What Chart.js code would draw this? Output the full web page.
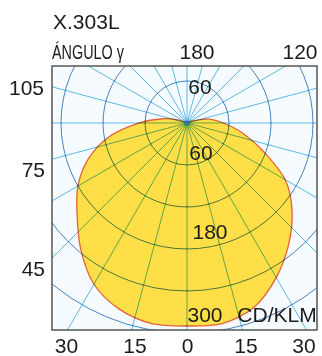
<!DOCTYPE html>
<html><head><meta charset="utf-8">
<script src="https://cdn.jsdelivr.net/npm/chart.js@4.4.1/dist/chart.umd.min.js"></script>
<style>html,body{margin:0;padding:0;background:#fff;overflow:hidden}canvas{display:block}</style>
</head><body>
<canvas id="c" width="322" height="356"></canvas>
<script>
// ---- data ----
const gammaAngles    = [0, 10, 20, 30, 40, 50, 60, 70, 80, 90, 100, 110, 120];
const intensityLeft  = [290, 291, 283, 266, 236, 205, 180, 150, 113, 68, 35, 12, 0];
const intensityRight = [290, 291, 280, 255, 226, 196, 162, 115, 80, 52, 32, 10, 0];
const ringValues     = [60, 120, 180, 240, 300, 360, 420];
const spokeAngles    = [0,15,30,45,60,75,90,105,120,135,150,165,180,195,210,225,240,255,270,285,300,315,330,345];
const bottomTickLabels = ['30', '15', '0', '15', '30'];
const leftTickLabels   = ['105', '75', '45'];
const topTickLabels    = ['180', '120'];
const ringLabels       = ['60', '60', '180', '300'];
const unitLabel  = 'CD/KLM';
const titleText  = 'X.303L';
const axisTitle  = 'ÁNGULO γ';

const rad = d => d * Math.PI / 180;
const curve = [];
for (let i = gammaAngles.length - 1; i >= 0; i--) {
  const g = rad(gammaAngles[i]), I = intensityLeft[i];
  curve.push({x: -I * Math.sin(g), y: -I * Math.cos(g)});
}
for (let i = 1; i < gammaAngles.length; i++) {
  const g = rad(gammaAngles[i]), I = intensityRight[i];
  curve.push({x: I * Math.sin(g), y: -I * Math.cos(g)});
}

// ---- text layout (pixels) ----
const FONT = '21px "Liberation Sans", Arial, sans-serif';
const textLayout = [
  {t: titleText, left: 53, yc: 21},
  {t: axisTitle, left: 52, yc: 51, w: 72},
  {t: topTickLabels[0], cx: 197, yc: 51},
  {t: topTickLabels[1], cx: 300, yc: 51},
  {t: leftTickLabels[0], right: 44, yc: 87},
  {t: leftTickLabels[1], right: 45, yc: 169},
  {t: leftTickLabels[2], right: 45, yc: 268},
  {t: ringLabels[0], cx: 200, yc: 86},
  {t: ringLabels[1], cx: 201, yc: 152},
  {t: ringLabels[2], cx: 210, yc: 231},
  {t: ringLabels[3], cx: 205, yc: 314},
  {t: unitLabel, cx: 277, yc: 314},
  {t: bottomTickLabels[0], cx: 66.5, yc: 345},
  {t: bottomTickLabels[1], cx: 135, yc: 345},
  {t: bottomTickLabels[2], cx: 187.5, yc: 345},
  {t: bottomTickLabels[3], cx: 246, yc: 345},
  {t: bottomTickLabels[4], cx: 304, yc: 345}
];

const polarPlugin = {
  id: 'polarGrid',
  beforeDatasetsDraw(chart) {
    const {ctx, chartArea: a} = chart;
    ctx.save();
    ctx.fillStyle = '#f5fbfe';
    ctx.fillRect(a.left, a.top, a.right - a.left, a.bottom - a.top);
    ctx.restore();
  },
  afterDatasetsDraw(chart) {
    const {ctx, chartArea: a, scales: {x, y}} = chart;
    const cx = x.getPixelForValue(0), cy = y.getPixelForValue(0);
    ctx.save();
    ctx.beginPath();
    ctx.rect(a.left, a.top, a.right - a.left, a.bottom - a.top);
    ctx.clip();
    ctx.globalCompositeOperation = 'multiply';
    ctx.lineWidth = 1;
    ctx.strokeStyle = '#62bce8';
    spokeAngles.forEach(g => {
      const R = 600;
      ctx.beginPath();
      ctx.moveTo(cx, cy);
      ctx.lineTo(x.getPixelForValue(R * Math.sin(rad(g))), y.getPixelForValue(-R * Math.cos(rad(g))));
      ctx.stroke();
    });
    ctx.strokeStyle = '#4a86c0';
    ringValues.forEach(r => {
      ctx.beginPath();
      ctx.arc(cx, cy, x.getPixelForValue(r) - cx, 0, Math.PI * 2);
      ctx.stroke();
    });
    ctx.restore();
    ctx.save();
    ctx.fillStyle = '#2a6fd0';
    ctx.beginPath(); ctx.arc(cx, cy, 2, 0, Math.PI * 2); ctx.fill();
    ctx.strokeStyle = '#555';
    ctx.lineWidth = 1.5;
    ctx.strokeRect(a.left, a.top, a.right - a.left, a.bottom - a.top);
    ctx.restore();
  },
  afterDraw(chart) {
    const ctx = chart.ctx;
    ctx.save();
    ctx.font = FONT;
    ctx.fillStyle = '#1c1c1c';
    ctx.textBaseline = 'alphabetic';
    textLayout.forEach(o => {
      const mw = ctx.measureText(o.t).width;
      const w = o.w || mw;
      let left = o.left;
      if (o.cx !== undefined) left = o.cx - w / 2;
      if (o.right !== undefined) left = o.right - w;
      ctx.save();
      ctx.translate(left, o.yc + 7.5);
      ctx.scale(w / mw, 1);
      ctx.fillText(o.t, 0, 0);
      ctx.restore();
    });
    ctx.restore();
  }
};

new Chart(document.getElementById('c'), {
  type: 'line',
  data: {
    datasets: [{
      data: curve,
      borderColor: '#e4623a',
      borderWidth: 1.3,
      backgroundColor: '#ffdf48',
      fill: 'shape',
      tension: 0.3,
      pointRadius: 0
    }]
  },
  options: {
    responsive: false,
    animation: false,
    devicePixelRatio: 1,
    layout: {padding: {left: 52, right: 5, top: 66, bottom: 26}},
    plugins: {legend: {display: false}, tooltip: {enabled: false}},
    scales: {
      x: {type: 'linear', min: -192.9, max: 185.7, display: false},
      y: {type: 'linear', min: -295.7, max: 81.4, display: false}
    }
  },
  plugins: [polarPlugin]
});
</script>
</body></html>
